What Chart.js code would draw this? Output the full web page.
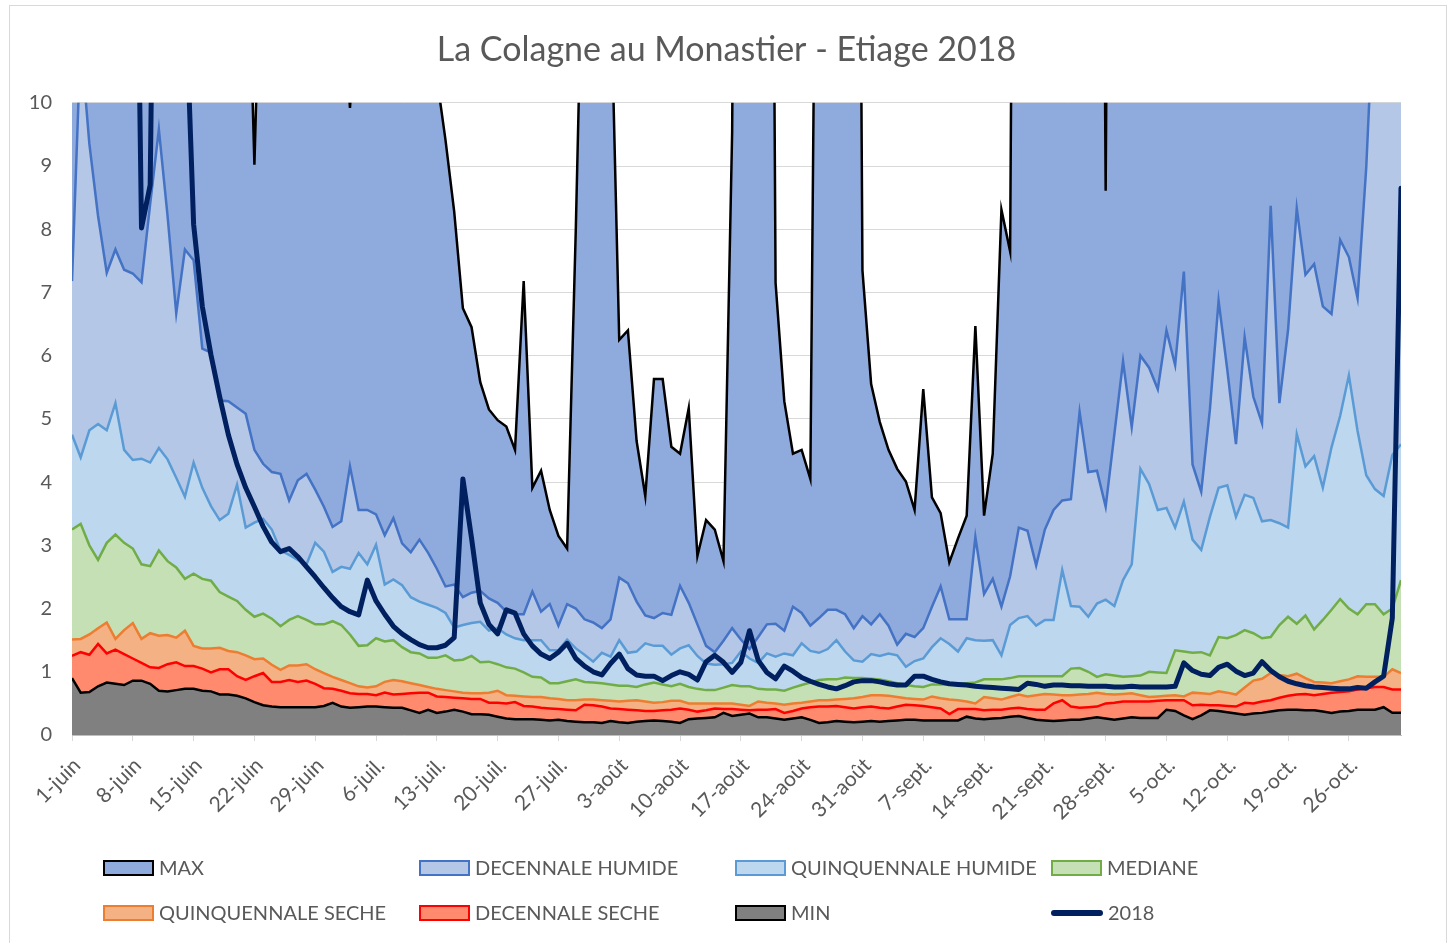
<!DOCTYPE html>
<html>
<head>
<meta charset="utf-8">
<script src="https://cdn.jsdelivr.net/npm/chart.js@4.4.1/dist/chart.umd.min.js"></script>
<style>
  body { margin: 0; background: #fff; overflow: hidden; }
  #wrap { position: relative; width: 1453px; height: 943px; }
  #frame { position: absolute; left: 9px; top: 5px; width: 1436px; height: 960px; border: 1px solid #d9d9d9; }
  canvas { position: absolute; left: 0; top: 0; }
  .lg { position: absolute; font-family: Lato, sans-serif; font-size: 20px; color: #595959; height: 24px; line-height: 24px; white-space: nowrap; }
  .lg .box { display: inline-block; width: 47px; height: 12px; border: 2.5px solid; vertical-align: middle; margin-right: 5px; margin-top: -3px; }
  .lg .ln { display: inline-block; width: 52px; height: 6px; border-radius: 3px; background: #002060; vertical-align: middle; margin-right: 5px; margin-top: -3px; }
</style>
</head>
<body>
<div id="wrap">
  <div id="frame"></div>
  <canvas id="chart" width="1453" height="943"></canvas>
  <div class="lg" style="left:103px;top:855px"><span class="box" style="background:#8FAADC;border-color:#000"></span>MAX</div>
  <div class="lg" style="left:419px;top:855px"><span class="box" style="background:#B4C7E7;border-color:#4472C4"></span>DECENNALE HUMIDE</div>
  <div class="lg" style="left:735px;top:855px"><span class="box" style="background:#BDD7EE;border-color:#5B9BD5"></span>QUINQUENNALE HUMIDE</div>
  <div class="lg" style="left:1051px;top:855px"><span class="box" style="background:#C5E0B4;border-color:#70AD47"></span>MEDIANE</div>
  <div class="lg" style="left:103px;top:900px"><span class="box" style="background:#F4B183;border-color:#ED7D31"></span>QUINQUENNALE SECHE</div>
  <div class="lg" style="left:419px;top:900px"><span class="box" style="background:#FF8A6E;border-color:#FF0000"></span>DECENNALE SECHE</div>
  <div class="lg" style="left:735px;top:900px"><span class="box" style="background:#808080;border-color:#000"></span>MIN</div>
  <div class="lg" style="left:1051px;top:900px"><span class="ln"></span>2018</div>
</div>
<script>
// one label every 7 days, 1 June -> 26 Oct
const tickLabels = ['1-juin', '8-juin', '15-juin', '22-juin', '29-juin', '6-juil.', '13-juil.', '20-juil.',
    '27-juil.', '3-août', '10-août', '17-août', '24-août', '31-août', '7-sept.', '14-sept.', '21-sept.',
    '28-sept.', '5-oct.', '12-oct.', '19-oct.', '26-oct.'];

// daily flows (m3/s), 1 June -> 1 Nov
const maxVals = [
    30, 30, 30, 30, 30, 30, 30, 30, 30, 30,
    30, 30, 30, 30, 30, 30, 30, 30, 30, 30,
    14, 9.02, 14, 30, 30, 30, 30, 30, 30, 30,
    30, 12, 9.92, 12, 30, 30, 30, 30, 30, 30,
    30, 30, 10.4, 9.41, 8.28, 6.75, 6.45, 5.58, 5.15, 4.98,
    4.88, 4.51, 7.18, 3.91, 4.18, 3.56, 3.15, 2.95, 8, 14,
    30, 30, 12, 6.25, 6.4, 4.65, 3.78, 5.63, 5.63, 4.56,
    4.45, 5.17, 2.83, 3.4, 3.25, 2.75, 9.55, 30, 30, 30,
    30, 7.15, 5.28, 4.45, 4.51, 4.05, 20, 30, 30, 30,
    30, 7.35, 5.55, 4.95, 4.51, 4.21, 4.01, 3.56, 5.47, 3.76,
    3.51, 2.73, 3.11, 3.47, 6.47, 3.47, 4.45, 8.31, 7.65, 30,
    30, 30, 30, 30, 30, 30, 30, 30, 30, 8.61,
    30, 30, 30, 30, 30, 30, 30, 30, 30, 30,
    30, 30, 30, 30, 30, 30, 30, 30, 30, 30,
    30, 30, 30, 30, 30, 30, 30, 30, 30, 30,
    30, 30, 30, 30
];
const decHumide = [
    7.18, 11, 9.35, 8.21, 7.31, 7.68, 7.36, 7.3, 7.16, 8.4,
    9.58, 8.21, 6.67, 7.68, 7.51, 6.11, 6.05, 5.29, 5.28, 5.18,
    5.08, 4.51, 4.29, 4.16, 4.13, 3.71, 4.03, 4.13, 3.88, 3.61,
    3.29, 3.38, 4.25, 3.56, 3.56, 3.49, 3.16, 3.43, 3.03, 2.89,
    3.09, 2.88, 2.63, 2.35, 2.38, 2.18, 2.25, 2.28, 2.16, 2.09,
    1.95, 1.91, 1.91, 2.27, 1.95, 2.07, 1.73, 2.07, 2, 1.83,
    1.78, 1.69, 1.83, 2.49, 2.4, 2.11, 1.89, 1.85, 1.93, 1.9,
    2.36, 2.09, 1.75, 1.41, 1.31, 1.49, 1.69, 1.51, 1.36, 1.55,
    1.75, 1.76, 1.65, 2.03, 1.93, 1.73, 1.85, 1.98, 1.98, 1.91,
    1.69, 1.88, 1.75, 1.91, 1.73, 1.43, 1.6, 1.55, 1.69, 2.03,
    2.35, 1.83, 1.83, 1.83, 3.13, 2.23, 2.47, 2.03, 2.51, 3.28,
    3.23, 2.68, 3.25, 3.56, 3.71, 3.73, 5.11, 4.16, 4.18, 3.61,
    4.76, 5.91, 4.87, 6, 5.81, 5.47, 6.4, 5.85, 7.33, 4.28,
    3.85, 5.15, 6.87, 5.78, 4.6, 6.29, 5.35, 4.93, 8.37, 5.25,
    6.41, 8.33, 7.28, 7.45, 6.78, 6.66, 7.83, 7.56, 6.91, 8.98,
    12, 14, 15, 15
];
const quinqHumide = [
    4.75, 4.39, 4.82, 4.92, 4.82, 5.25, 4.51, 4.35, 4.37, 4.31,
    4.54, 4.36, 4.07, 3.77, 4.31, 3.91, 3.62, 3.4, 3.5, 3.96,
    3.28, 3.36, 3.42, 3.25, 2.92, 2.85, 2.77, 2.7, 3.04, 2.9,
    2.58, 2.66, 2.63, 2.88, 2.7, 3.01, 2.38, 2.46, 2.37, 2.18,
    2.11, 2.06, 2.01, 1.93, 1.7, 1.74, 1.77, 1.79, 1.65, 1.69,
    1.59, 1.53, 1.5, 1.5, 1.5, 1.34, 1.34, 1.51, 1.37, 1.27,
    1.16, 1.3, 1.24, 1.5, 1.3, 1.32, 1.45, 1.41, 1.41, 1.27,
    1.37, 1.42, 1.25, 1.13, 1.11, 1.12, 1.14, 1.32, 1.21, 1.14,
    1.29, 1.24, 1.29, 1.26, 1.45, 1.33, 1.3, 1.36, 1.5, 1.32,
    1.18, 1.16, 1.28, 1.25, 1.29, 1.26, 1.08, 1.17, 1.21, 1.39,
    1.53, 1.44, 1.32, 1.53, 1.5, 1.49, 1.5, 1.26, 1.74, 1.85,
    1.88, 1.73, 1.82, 1.82, 2.61, 2.04, 2.03, 1.87, 2.08, 2.14,
    2.04, 2.45, 2.7, 4.21, 3.97, 3.56, 3.59, 3.28, 3.69, 3.09,
    2.93, 3.45, 3.91, 3.95, 3.45, 3.8, 3.75, 3.38, 3.4, 3.35,
    3.28, 4.76, 4.25, 4.41, 3.91, 4.55, 5.05, 5.69, 4.81, 4.11,
    3.89, 3.78, 4.43, 4.6
];
const mediane = [
    3.25, 3.34, 3, 2.77, 3.04, 3.17, 3.04, 2.95, 2.7, 2.67,
    2.92, 2.75, 2.65, 2.47, 2.55, 2.47, 2.44, 2.26, 2.19, 2.12,
    1.98, 1.87, 1.92, 1.84, 1.72, 1.82, 1.88, 1.82, 1.75, 1.75,
    1.8, 1.74, 1.59, 1.41, 1.42, 1.53, 1.48, 1.5, 1.39, 1.31,
    1.29, 1.22, 1.22, 1.26, 1.18, 1.19, 1.25, 1.15, 1.16, 1.12,
    1.07, 1.05, 0.99, 0.92, 0.91, 0.82, 0.82, 0.85, 0.88, 0.84,
    0.83, 0.82, 0.8, 0.78, 0.78, 0.76, 0.8, 0.83, 0.8, 0.77,
    0.81, 0.76, 0.73, 0.71, 0.71, 0.75, 0.79, 0.77, 0.77, 0.73,
    0.72, 0.72, 0.7, 0.75, 0.79, 0.83, 0.87, 0.88, 0.88, 0.91,
    0.9, 0.9, 0.89, 0.88, 0.85, 0.82, 0.79, 0.77, 0.76, 0.8,
    0.8, 0.8, 0.81, 0.82, 0.83, 0.88, 0.88, 0.88, 0.9, 0.93,
    0.93, 0.93, 0.93, 0.93, 0.93, 1.05, 1.06, 1, 0.92, 0.96,
    0.94, 0.92, 0.93, 0.94, 1, 0.99, 0.98, 1.34, 1.32, 1.3,
    1.31, 1.26, 1.55, 1.53, 1.58, 1.66, 1.61, 1.53, 1.55, 1.74,
    1.87, 1.76, 1.89, 1.67, 1.82, 1.98, 2.15, 2, 1.91, 2.07,
    2.07, 1.91, 2, 2.45
];
const quinqSeche = [
    1.51, 1.52, 1.59, 1.69, 1.78, 1.52, 1.66, 1.77, 1.52, 1.61,
    1.57, 1.58, 1.54, 1.65, 1.41, 1.37, 1.37, 1.38, 1.33, 1.31,
    1.26, 1.2, 1.21, 1.11, 1.03, 1.1, 1.1, 1.12, 1.04, 0.98,
    0.92, 0.87, 0.82, 0.77, 0.75, 0.77, 0.84, 0.87, 0.85, 0.82,
    0.79, 0.76, 0.73, 0.71, 0.69, 0.67, 0.66, 0.66, 0.67, 0.7,
    0.63, 0.62, 0.61, 0.6, 0.6, 0.58, 0.57, 0.55, 0.55, 0.56,
    0.56, 0.55, 0.54, 0.53, 0.54, 0.55, 0.53, 0.51, 0.52, 0.54,
    0.54, 0.5, 0.5, 0.5, 0.5, 0.5, 0.5, 0.48, 0.46, 0.53,
    0.51, 0.5, 0.48, 0.5, 0.51, 0.53, 0.55, 0.55, 0.56, 0.57,
    0.58, 0.6, 0.63, 0.63, 0.62, 0.6, 0.58, 0.57, 0.56, 0.61,
    0.58, 0.56, 0.55, 0.53, 0.5, 0.6, 0.58, 0.56, 0.6, 0.64,
    0.61, 0.63, 0.65, 0.64, 0.63, 0.63, 0.64, 0.65, 0.67, 0.65,
    0.64, 0.65, 0.66, 0.63, 0.6, 0.61, 0.62, 0.63, 0.61, 0.67,
    0.66, 0.65, 0.69, 0.67, 0.64, 0.75, 0.86, 0.89, 0.98, 0.95,
    0.93, 0.97, 0.9, 0.84, 0.83, 0.82, 0.85, 0.88, 0.93, 0.92,
    0.92, 0.92, 1.04, 0.98
];
const decSeche = [
    1.25, 1.31, 1.27, 1.44, 1.29, 1.35, 1.28, 1.21, 1.14, 1.07,
    1.06, 1.12, 1.15, 1.09, 1.09, 1.05, 0.99, 1.04, 1.04, 0.93,
    0.87, 0.93, 0.98, 0.84, 0.84, 0.87, 0.84, 0.86, 0.81, 0.74,
    0.73, 0.7, 0.66, 0.65, 0.65, 0.63, 0.67, 0.64, 0.65, 0.66,
    0.67, 0.67, 0.61, 0.6, 0.59, 0.58, 0.57, 0.57, 0.51, 0.51,
    0.5, 0.52, 0.46, 0.45, 0.43, 0.42, 0.41, 0.4, 0.39, 0.48,
    0.47, 0.45, 0.42, 0.41, 0.4, 0.39, 0.38, 0.38, 0.39, 0.4,
    0.42, 0.4, 0.37, 0.39, 0.42, 0.41, 0.41, 0.4, 0.39, 0.4,
    0.4, 0.41, 0.35, 0.38, 0.42, 0.44, 0.45, 0.45, 0.46, 0.44,
    0.42, 0.44, 0.45, 0.43, 0.42, 0.45, 0.48, 0.47, 0.46, 0.44,
    0.42, 0.33, 0.41, 0.41, 0.41, 0.39, 0.4, 0.4, 0.42, 0.43,
    0.41, 0.4, 0.4, 0.5, 0.55, 0.45, 0.43, 0.44, 0.45, 0.5,
    0.51, 0.53, 0.53, 0.53, 0.53, 0.54, 0.55, 0.55, 0.55, 0.47,
    0.48, 0.47, 0.47, 0.46, 0.45, 0.51, 0.5, 0.53, 0.55, 0.59,
    0.62, 0.64, 0.65, 0.63, 0.65, 0.67, 0.68, 0.69, 0.72, 0.74,
    0.76, 0.76, 0.72, 0.72
];
const minVals = [
    0.9, 0.67, 0.68, 0.77, 0.83, 0.81, 0.79, 0.86, 0.86, 0.81,
    0.7, 0.69, 0.71, 0.73, 0.73, 0.7, 0.69, 0.64, 0.64, 0.62,
    0.58, 0.52, 0.47, 0.45, 0.44, 0.44, 0.44, 0.44, 0.44, 0.46,
    0.51, 0.45, 0.43, 0.44, 0.45, 0.45, 0.44, 0.43, 0.43, 0.39,
    0.35, 0.4, 0.35, 0.37, 0.4, 0.37, 0.33, 0.33, 0.32, 0.29,
    0.26, 0.25, 0.25, 0.25, 0.24, 0.23, 0.24, 0.22, 0.21, 0.2,
    0.2, 0.19, 0.22, 0.2, 0.19, 0.21, 0.22, 0.23, 0.22, 0.21,
    0.19, 0.25, 0.26, 0.27, 0.28, 0.35, 0.3, 0.32, 0.34, 0.28,
    0.28, 0.26, 0.24, 0.26, 0.28, 0.24, 0.19, 0.2, 0.22, 0.21,
    0.2, 0.21, 0.22, 0.21, 0.22, 0.23, 0.24, 0.24, 0.23, 0.23,
    0.23, 0.23, 0.23, 0.29, 0.26, 0.25, 0.26, 0.27, 0.29, 0.3,
    0.27, 0.24, 0.23, 0.22, 0.23, 0.24, 0.24, 0.26, 0.28, 0.26,
    0.24, 0.26, 0.28, 0.27, 0.27, 0.27, 0.4, 0.38, 0.31, 0.25,
    0.31, 0.39, 0.38, 0.36, 0.34, 0.32, 0.34, 0.35, 0.37, 0.39,
    0.4, 0.4, 0.39, 0.39, 0.37, 0.35, 0.37, 0.38, 0.4, 0.4,
    0.4, 0.44, 0.35, 0.35
];
const year2018 = [
    30, 30, 30, 30, 30, 30, 30, 18, 8.02, 8.7,
    20, 20, 20, 12, 8.08, 6.78, 6.01, 5.35, 4.75, 4.28,
    3.91, 3.61, 3.3, 3.05, 2.9, 2.95, 2.82, 2.66, 2.5, 2.33,
    2.17, 2.03, 1.95, 1.9, 2.45, 2.12, 1.91, 1.72, 1.6, 1.51,
    1.43, 1.38, 1.38, 1.42, 1.54, 4.05, 3.11, 2.09, 1.75, 1.6,
    1.98, 1.93, 1.6, 1.41, 1.28, 1.21, 1.31, 1.45, 1.21, 1.09,
    1, 0.95, 1.13, 1.28, 1.05, 0.95, 0.93, 0.93, 0.86, 0.94,
    1, 0.96, 0.87, 1.16, 1.26, 1.15, 0.99, 1.15, 1.65, 1.18,
    0.99, 0.89, 1.09, 1.01, 0.91, 0.85, 0.8, 0.76, 0.73, 0.78,
    0.84, 0.86, 0.86, 0.84, 0.81, 0.79, 0.79, 0.93, 0.93, 0.88,
    0.84, 0.81, 0.8, 0.79, 0.77, 0.76, 0.75, 0.74, 0.73, 0.72,
    0.82, 0.8, 0.77, 0.79, 0.79, 0.78, 0.78, 0.77, 0.77, 0.77,
    0.76, 0.76, 0.77, 0.76, 0.76, 0.76, 0.76, 0.77, 1.14, 1.02,
    0.96, 0.94, 1.07, 1.12, 1.01, 0.94, 0.98, 1.16, 1.02, 0.92,
    0.85, 0.81, 0.78, 0.76, 0.75, 0.74, 0.73, 0.73, 0.75, 0.74,
    0.84, 0.93, 1.85, 8.65
];

const labels = maxVals.map((v, i) => (i % 7 === 0 ? tickLabels[i / 7] : ''));
const textColor = '#595959';
const gridColor = '#d9d9d9';

function area(label, data, fillColor, lineColor, order) {
    return {
        label: label,
        data: data,
        backgroundColor: fillColor,
        borderColor: lineColor,
        borderWidth: 2.5,
        fill: 'origin',
        order: order,
        clip: 0
    };
}

new Chart(document.getElementById('chart').getContext('2d'), {
    type: 'line',
    data: {
        labels: labels,
        datasets: [
            area('MAX', maxVals, '#8FAADC', '#000000', 7),
            area('DECENNALE HUMIDE', decHumide, '#B4C7E7', '#4472C4', 6),
            area('QUINQUENNALE HUMIDE', quinqHumide, '#BDD7EE', '#5B9BD5', 5),
            area('MEDIANE', mediane, '#C5E0B4', '#70AD47', 4),
            area('QUINQUENNALE SECHE', quinqSeche, '#F4B183', '#ED7D31', 3),
            area('DECENNALE SECHE', decSeche, '#FF8A6E', '#FF0000', 2),
            area('MIN', minVals, '#808080', '#000000', 1),
            {
                label: '2018',
                data: year2018,
                borderColor: '#002060',
                borderWidth: 5,
                fill: false,
                order: 0,
                clip: 0,
                borderJoinStyle: 'round',
                borderCapStyle: 'round'
            }
        ]
    },
    options: {
        responsive: false,
        animation: false,
        devicePixelRatio: 1,
        layout: { padding: 0 },
        elements: { point: { radius: 0 }, line: { tension: 0 } },
        plugins: {
            legend: { display: false },
            tooltip: { enabled: false },
            title: {
                display: true,
                text: 'La Colagne au Monastier - Etiage 2018',
                color: textColor,
                font: { family: 'Lato', size: 34, weight: 'normal' },
                padding: { top: 30, bottom: 32 }
            }
        },
        scales: {
            x: {
                type: 'category',
                offset: false,
                grid: { drawOnChartArea: false, drawTicks: true, tickLength: 6, color: gridColor },
                border: { display: true, color: '#bfbfbf' },
                ticks: {
                    autoSkip: false,
                    maxRotation: 45,
                    minRotation: 45,
                    padding: 12,
                    labelOffset: 5,
                    color: textColor,
                    font: { family: 'Lato', size: 21 }
                },
                afterBuildTicks: function (scale) {
                    scale.ticks = scale.ticks.filter(t => t.value % 7 === 0);
                },
                afterFit: function (scale) { scale.height = 208; }
            },
            y: {
                min: 0,
                max: 10,
                ticks: { stepSize: 1, padding: 20, color: textColor, font: { family: 'Lato', size: 20 } },
                grid: { color: gridColor, drawTicks: false },
                border: { display: false },
                afterFit: function (scale) { scale.width = 72; }
            },
            // empty right-hand spacer so the plot ends where the original does
            spacer: {
                position: 'right',
                display: true,
                grid: { display: false, drawTicks: false },
                border: { display: false },
                ticks: { display: false },
                afterFit: function (scale) { scale.width = 52; }
            }
        }
    }
});
</script>
</body>
</html>
